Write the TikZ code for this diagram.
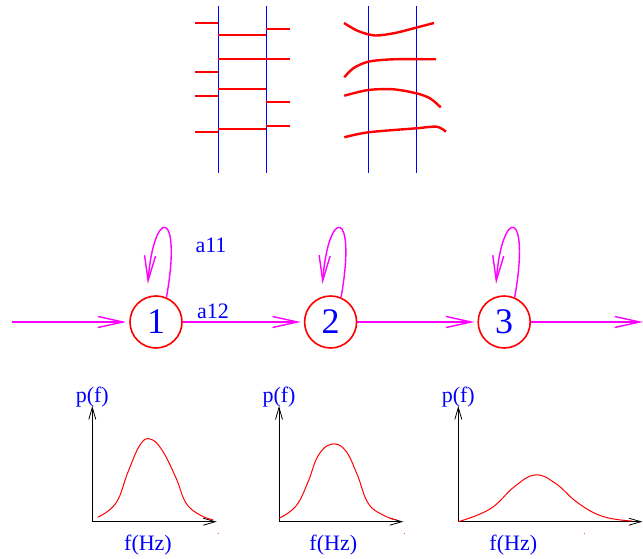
\documentclass[tikz,border=0pt]{standalone}
\usepackage{fontspec}
\setmainfont{Liberation Serif}
\usetikzlibrary{arrows.meta,positioning}
\definecolor{hmmmag}{RGB}{255,0,255}
\definecolor{hmmblue}{RGB}{0,0,255}
\definecolor{hmmred}{RGB}{255,0,0}

\begin{document}
\begin{tikzpicture}[x=1pt,y=-1pt,
state/.style={circle,draw=hmmred,line width=1.6pt,minimum size=52pt,inner sep=0pt,
text=hmmblue,font=\fontsize{36}{36}\selectfont},
lbl/.style={text=hmmblue,inner sep=1pt,font=\fontsize{22}{24}\selectfont},
trans/.style={hmmmag,line width=1.4pt,shorten >=3pt,
-{Straight Barb[length=25pt,width=11pt]}},
selfloop/.style={trans,shorten >=13pt},
axis/.style={black,line width=0.8pt,-{Straight Barb[length=12pt,width=7pt]}},
wire/.style={hmmblue,line width=1pt},
seg/.style={hmmred,line width=2.4pt},
pdf/.style={hmmred,line width=1pt}
]
\useasboundingbox (0,0) rectangle (643,559);

% segmented frames
\foreach \x in {218.3,266.3,368.3,416.3}
\draw[wire] (\x,6) -- (\x,173);
\foreach \y in {23,72,96,132} \draw[seg] (195,\y) -- (218.3,\y);
\foreach \y in {35,59,89,129} \draw[seg] (218.3,\y) -- (266.3,\y);
\foreach \y in {29,59,102,126} \draw[seg] (266.3,\y) -- (290,\y);

% continuous trajectories
\draw[seg] plot[smooth] coordinates {(344,23) (358,31) (375,35.5) (395,33) (416,27.7) (434,23)};
\draw[seg] plot[smooth] coordinates {(344.3,77.3) (353.3,68.3) (368.3,61.7) (393.3,59.3) (436,59.3)};
\draw[seg] plot[smooth] coordinates {(344.3,95.7) (368.3,90) (393.3,89.3) (416.3,93.3) (430,98.3) (440.7,107.3)};
\draw[seg] plot[smooth] coordinates {(344.3,137.3) (368.3,132.3) (416.3,128.3) (436.7,126.7) (446,131.7)};

% HMM states
\node[state] (st1) at (156,322) {1};
\node[state,right=121pt of st1] (st2) {2};
\node[state,right=120pt of st2] (st3) {3};
\coordinate (in) at (12,322);
\coordinate (out) at (643,322);
\draw[trans] (in) -- (st1);
\draw[trans] (st1) -- node[lbl,pos=0.25,above=2pt] (a12) {a12} (st2);
\draw[trans] (st2) -- (st3);
\draw[trans,shorten >=0pt] (st3) -- (out);
\foreach \s in {st1,st2,st3}
\draw[selfloop] (\s.67) .. controls +(16,-90) and +(7,-90) .. (\s.110);
\node[lbl] (a11) at (211,245) {a11};

% output densities
\foreach \ox/\xe/\fx/\dx [count=\i] in {92.3/216.7/148/218.3,279/403.3/333.3/404.3,458.3/642.3/513.3/584.3}{
\coordinate (o\i) at (\ox,521.7);
\coordinate (yt\i) at (\ox,406);
\coordinate (xt\i) at (\xe,521.7);
\draw[axis] (o\i) -- (yt\i);
\draw[axis] (o\i) -- (xt\i);
\node[lbl] (pf\i) at (\ox,397) {p(f)};
\node[lbl] (fhz\i) at (\fx,545) {f(Hz)};
\fill[hmmmag] (\dx,533.3) circle (0.6pt);
}
\draw[pdf] plot[smooth,tension=0.7] coordinates {(97.7,517.3) (116,503) (128,472) (140,445) (150,439) (162,450) (176,478) (186,503) (200,515) (213.3,520)};
\draw[pdf] plot[smooth,tension=0.7] coordinates {(279,518.3) (296,506) (308,482) (318,456) (331,444.3) (345,450) (357,474) (368,503) (383,515) (396.7,520)};
\draw[pdf] plot[smooth,tension=0.7] coordinates {(458.3,521.7) (490,509) (514,487) (535,475) (555,483) (578,503) (603,516.5) (631.7,521)};
\end{tikzpicture}
\end{document}
